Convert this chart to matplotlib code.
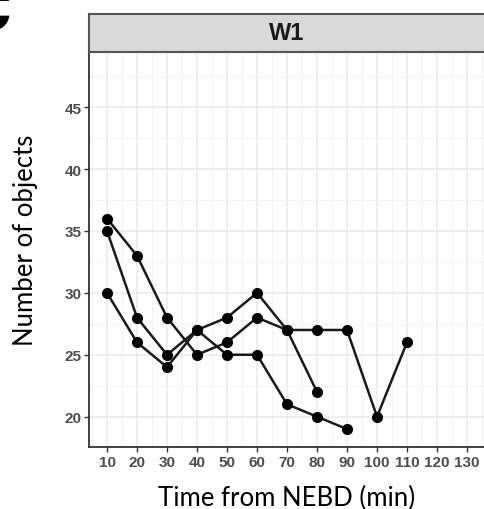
import matplotlib
matplotlib.use("Agg")
import matplotlib.pyplot as plt
from matplotlib.patches import Rectangle
from matplotlib.ticker import MultipleLocator

# one list of values per tracked cell (x = minutes from NEBD)
time_a = [10, 20, 30, 40, 50, 60, 70, 80, 90, 100, 110]
count_a = [36, 33, 28, 25, 26, 28, 27, 27, 27, 20, 26]
time_b = [10, 20, 30, 40, 50, 60, 70, 80]
count_b = [35, 28, 25, 27, 28, 30, 27, 22]
time_c = [10, 20, 30, 40, 50, 60, 70, 80, 90]
count_c = [30, 26, 24, 27, 25, 25, 21, 20, 19]

x_ticks = list(range(10, 131, 10))
y_ticks = [20, 25, 30, 35, 40, 45]
panel_title = "W1"

W, H = 484, 510
fig = plt.figure(figsize=(W / 100, H / 100), dpi=100)

def fx(px):
    return px / W

def fy(px):
    return 1 - px / H

left, right, top, bottom = 89, 485, 53, 448
ax = fig.add_axes([fx(left), fy(bottom), fx(right - left), (bottom - top) / H])

tick_font = dict(family=["Liberation Sans Narrow", "Liberation Sans", "DejaVu Sans"],
                 weight="bold", size=11, color="#4D4D4D")
label_font = ["Lato", "DejaVu Sans"]

for t, c in ((time_a, count_a), (time_b, count_b), (time_c, count_c)):
    ax.plot(t, c, color="#1a1a1a", lw=1.8, marker="o", ms=7,
            mfc="black", mec="black", zorder=3)

ax.set_xlim(4, 136)
ax.set_ylim(17.55, 49.45)
ax.set_xticks(x_ticks)
ax.set_yticks(y_ticks)
ax.xaxis.set_minor_locator(MultipleLocator(5))
ax.yaxis.set_minor_locator(MultipleLocator(2.5))
ax.grid(True, which="major", color="#EBEBEB", lw=1.1, zorder=0)
ax.grid(True, which="minor", color="#F2F2F2", lw=0.7, zorder=0)
ax.set_axisbelow(True)
ax.tick_params(which="minor", length=0)
ax.tick_params(which="major", length=3.5, width=1, color="#333333", pad=2)
for lab in ax.get_xticklabels() + ax.get_yticklabels():
    lab.set(**tick_font)

for side in ("top", "right"):
    ax.spines[side].set_visible(False)
for side in ("left", "bottom"):
    ax.spines[side].set_color("#333333")
    ax.spines[side].set_linewidth(1.3)

ax.set_xlabel("Time from NEBD (min)", family=label_font, fontsize=18.5, labelpad=12)
ax.set_ylabel("Number of objects", family=label_font, fontsize=18.5, labelpad=19,
              y=0.527)

# facet strip
strip = Rectangle((fx(left), fy(top)), fx(right - left + 10), (top - 15) / H,
                  transform=fig.transFigure, facecolor="#D9D9D9",
                  edgecolor="#555555", lw=1.5, clip_on=False)
fig.add_artist(strip)
fig.text(fx((left + right) / 2), fy((15 + top) / 2), panel_title,
         ha="center", va="center", fontsize=17, fontweight="bold",
         family=["Liberation Sans", "DejaVu Sans"], color="#1a1a1a")

# cropped panel letter from the source figure
fig.text(fx(-33), fy(30), "c", ha="left", va="baseline", fontsize=58,
         fontweight="bold", family=["Liberation Sans", "DejaVu Sans"])

fig.savefig("out.png", dpi=100)
